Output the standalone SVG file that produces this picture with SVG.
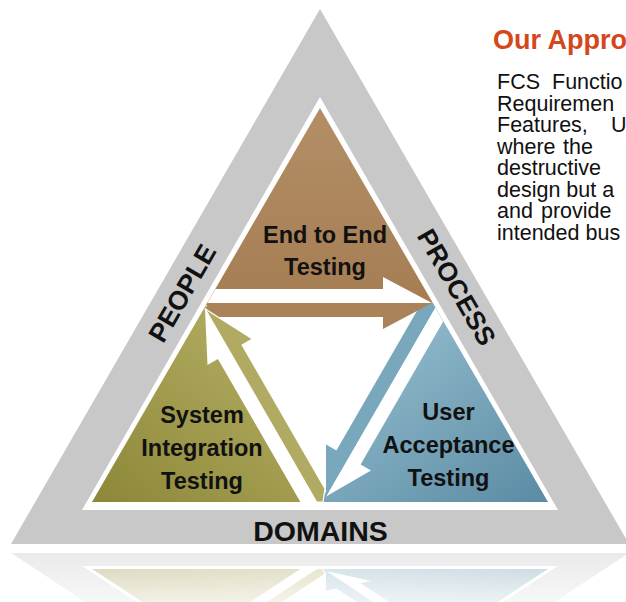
<svg xmlns="http://www.w3.org/2000/svg" width="626" height="602" viewBox="0 0 626 602">
<defs>
<style>
.lbl{font-family:"Liberation Sans",Arial,sans-serif;font-weight:bold;fill:#111;text-anchor:middle;font-size:23.5px}
.band{font-family:"Liberation Sans",Arial,sans-serif;font-weight:bold;fill:#111;text-anchor:middle;font-size:26.5px}
.body{font-family:"Liberation Sans",Arial,sans-serif;font-size:21.5px;fill:#111}
.title{font-family:"Liberation Sans",Arial,sans-serif;font-size:27px;font-weight:bold;fill:#d4471a}
.wh{fill:#fff}
</style>
<linearGradient id="gBrown" gradientUnits="userSpaceOnUse" x1="0" y1="108" x2="0" y2="305">
<stop offset="0" stop-color="#b38e66"/><stop offset="1" stop-color="#a67d53"/>
</linearGradient>
<linearGradient id="gOlive" gradientUnits="userSpaceOnUse" x1="260" y1="320" x2="110" y2="505">
<stop offset="0" stop-color="#b3ad62"/><stop offset="1" stop-color="#8e883a"/>
</linearGradient>
<linearGradient id="gBlue" gradientUnits="userSpaceOnUse" x1="410" y1="320" x2="545" y2="505">
<stop offset="0" stop-color="#8fb9cb"/><stop offset="1" stop-color="#5a8ba3"/>
</linearGradient>
<linearGradient id="fadeG" gradientUnits="userSpaceOnUse" x1="0" y1="553" x2="0" y2="602">
<stop offset="0" stop-color="#fff" stop-opacity="0.38"/><stop offset="1" stop-color="#fff" stop-opacity="0.14"/>
</linearGradient>
<mask id="fade" maskUnits="userSpaceOnUse" x="0" y="545" width="626" height="57">
<rect x="0" y="545" width="626" height="57" fill="url(#fadeG)"/>
</mask>
</defs>
<rect width="626" height="602" fill="#fff"/>

<g id="frame">
<polygon points="320,9 11,544 629,544" fill="#c8c8c8"/>
<polygon points="320,97 82,510 558,510" fill="#fff"/>
</g>

<g id="node-end-to-end">
<polygon id="triBrown" points="320,108 206,305 434,305" fill="url(#gBrown)"/>
<text class="lbl" x="325" y="243">End to End</text>
<text class="lbl" x="325" y="275">Testing</text>
</g>

<g id="node-system-integration">
<polygon id="triOlive" points="206,305 92,502 320,502" fill="url(#gOlive)"/>
<text class="lbl" x="202" y="423">System</text>
<text class="lbl" x="202" y="456">Integration</text>
<text class="lbl" x="202" y="489">Testing</text>
</g>

<g id="node-user-acceptance">
<polygon id="triBlue" points="434,305 320,502 548,502" fill="url(#gBlue)"/>
<text class="lbl" x="448.5" y="420">User</text>
<text class="lbl" x="448.5" y="453">Acceptance</text>
<text class="lbl" x="448.5" y="486">Testing</text>
</g>

<g id="connectors">
<g id="arrow-blue">
<polygon class="wh" points="435.2,307.4 443.2,321.4 360.6,464.5 371,470.5 326,496.5"/>
<polygon points="421.5,303 432.6,303 435.2,307.4 326,496.5 326,444.5 336.4,450.5" fill="#79a8bd"/>
</g>
<g id="arrow-brown">
<polygon class="wh" points="215.5,289 383,289 383,277 432,303 207.4,303"/>
<polygon points="207.4,303 432,303 383,329 383,317 206,317" fill="#ab8359"/>
</g>
<g id="arrow-olive">
<polygon class="wh" points="205,308.7 207.5,365 217.9,359 300.4,502 316.6,502"/>
<polygon points="205,308.7 316.6,502 323,502 325,488.6 242.1,345 252.5,339" fill="#b0aa62" stroke="#fff" stroke-width="1.2" stroke-linejoin="round"/>
</g>
</g>

<g id="band-labels">
<g id="people" transform="translate(182,293) rotate(-60)">
<text class="band" x="0" y="9.5">PEOPLE</text>
</g>
<g id="process" transform="translate(457,287) rotate(60)">
<text class="band" x="0" y="9.5">PROCESS</text>
</g>
<g id="domains">
<text class="band" x="320.5" y="541" style="font-size:28.5px">DOMAINS</text>
</g>
</g>

<g id="reflection" mask="url(#fade)">
<g transform="matrix(1 0 0 -0.38 0 759.7)">
<use href="#frame"/>
<use href="#triOlive"/>
<use href="#triBlue"/>
<use href="#connectors"/>
</g>
</g>

<g id="approach-text">
<text class="title" x="493" y="49">Our Appro</text>
<text class="body" y="89"><tspan x="497">FCS</tspan><tspan x="552">Functio</tspan></text>
<text class="body" x="497" y="110.5">Requiremen</text>
<text class="body" y="132"><tspan x="497">Features,</tspan><tspan x="611">U</tspan></text>
<text class="body" y="153.5"><tspan x="497">where</tspan><tspan x="563">the</tspan></text>
<text class="body" x="497" y="175">destructive</text>
<text class="body" x="497" y="196.5">design but a</text>
<text class="body" y="218"><tspan x="497">and</tspan><tspan x="541">provide</tspan></text>
<text class="body" x="497" y="239.5">intended bus</text>
</g>
</svg>
